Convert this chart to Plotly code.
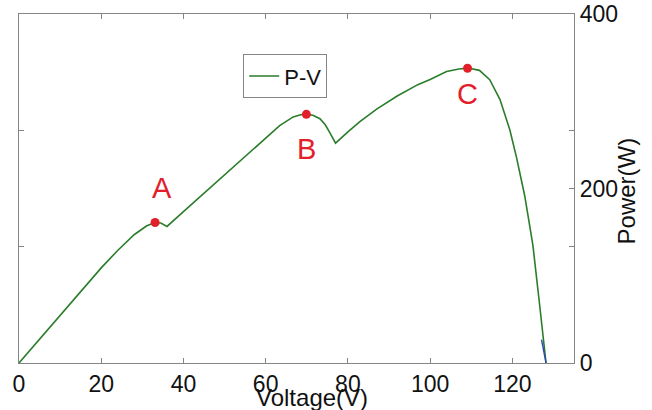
import plotly.graph_objects as go

# P-V curve data (Voltage in V, Power in W)
voltage = [0, 5, 10, 15, 20, 24, 28, 31, 33, 34.5, 36, 40, 44, 50, 56, 60, 63.4, 66.7,
           68.5, 70, 71.5, 73.2, 74.5, 75.6, 77, 80, 83, 87, 92, 97, 100, 104, 107,
           109.2, 112, 114.5, 117, 119.4, 121, 123, 125, 126.5, 127.5, 128.2]
power = [0, 27, 54, 82, 109, 129, 147, 157, 161, 160.5, 156.5, 173.5, 190.5, 216, 241.5,
         258.5, 272, 282, 284.5, 285, 284, 280, 273, 264, 252, 265, 277, 291, 306, 319,
         325, 334, 337, 338, 335.4, 324.7, 302, 267, 236, 192, 135, 72.5, 30, 0]

# small blue segment near open-circuit voltage
blue_v = [127.1, 128.2]
blue_p = [26.7, 0]

# peak points
peak_labels = ["A", "B", "C"]
peak_v = [33.1, 69.9, 109.1]
peak_p = [161, 285, 337.8]
label_v = [34.7, 69.9, 109.2]
label_p = [201, 245.6, 308.6]

x_ticks = [0, 20, 40, 60, 80, 100, 120]
y_ticks = [0, 133.33, 200, 266.67, 400]
y_ticktext = ["0", "", "200", "", "400"]
left_ticks = [133.33, 266.67]

FONT = "Liberation Sans, Arial, sans-serif"
AX = "#858585"

fig = go.Figure()
fig.add_trace(go.Scatter(x=voltage, y=power, mode="lines", name="P-V",
                         line=dict(color="#2a7d2a", width=1.6), yaxis="y"))
fig.add_trace(go.Scatter(x=blue_v, y=blue_p, mode="lines", showlegend=False,
                         line=dict(color="#2a48b0", width=1.4), yaxis="y"))
fig.add_trace(go.Scatter(x=peak_v, y=peak_p, mode="markers", showlegend=False,
                         marker=dict(color="#e3202a", size=9), yaxis="y"))
fig.add_trace(go.Scatter(x=[0], y=[0], mode="markers", showlegend=False,
                         marker=dict(opacity=0), yaxis="y2", hoverinfo="skip"))

for t, xv, yv in zip(peak_labels, label_v, label_p):
    fig.add_annotation(x=xv, y=yv, text=t, showarrow=False,
                       font=dict(family=FONT, size=29, color="#e3202a"))

fig.add_annotation(x=0.528, y=-0.054, xref="paper", yref="paper", text="Voltage(V)",
                   showarrow=False, xanchor="center", yanchor="top",
                   font=dict(family=FONT, size=24, color="#111"))
fig.add_annotation(x=1.094, y=0.492, xref="paper", yref="paper", text="Power(W)",
                   showarrow=False, textangle=-90, xanchor="center", yanchor="middle",
                   font=dict(family=FONT, size=24, color="#111"))

fig.update_layout(
    width=652, height=410,
    margin=dict(l=19, r=78, t=14, b=47, autoexpand=False),
    paper_bgcolor="white", plot_bgcolor="white",
    font=dict(family=FONT, size=22, color="#111"),
    showlegend=True,
    legend=dict(x=0.404, y=0.885, xanchor="left", yanchor="top",
                bordercolor=AX, borderwidth=1, bgcolor="white",
                font=dict(family=FONT, size=22)),
    xaxis=dict(range=[0, 135], tickvals=x_ticks, ticks="inside", ticklen=5,
               tickcolor=AX, showline=True, linecolor=AX, linewidth=1.2,
               mirror="ticks", showgrid=False, zeroline=False, automargin=False,
               ticklabeloverflow="allow",
               tickfont=dict(family=FONT, size=23, color="#111")),
    yaxis=dict(range=[0, 400], side="right", tickvals=y_ticks, ticktext=y_ticktext,
               ticks="inside", ticklen=5, tickcolor=AX, showline=True, linecolor=AX,
               linewidth=1.2, showgrid=False, zeroline=False, automargin=False,
               ticklabeloverflow="allow",
               tickfont=dict(family=FONT, size=23, color="#111")),
    yaxis2=dict(range=[0, 400], overlaying="y", side="left", tickvals=left_ticks,
                ticks="inside", ticklen=5, tickcolor=AX, showline=True, linecolor=AX,
                linewidth=1.2, showgrid=False, zeroline=False, showticklabels=False,
                automargin=False),
)

fig.write_html("out.html", config={"displayModeBar": False},
               post_script="document.body.style.margin='0';")
